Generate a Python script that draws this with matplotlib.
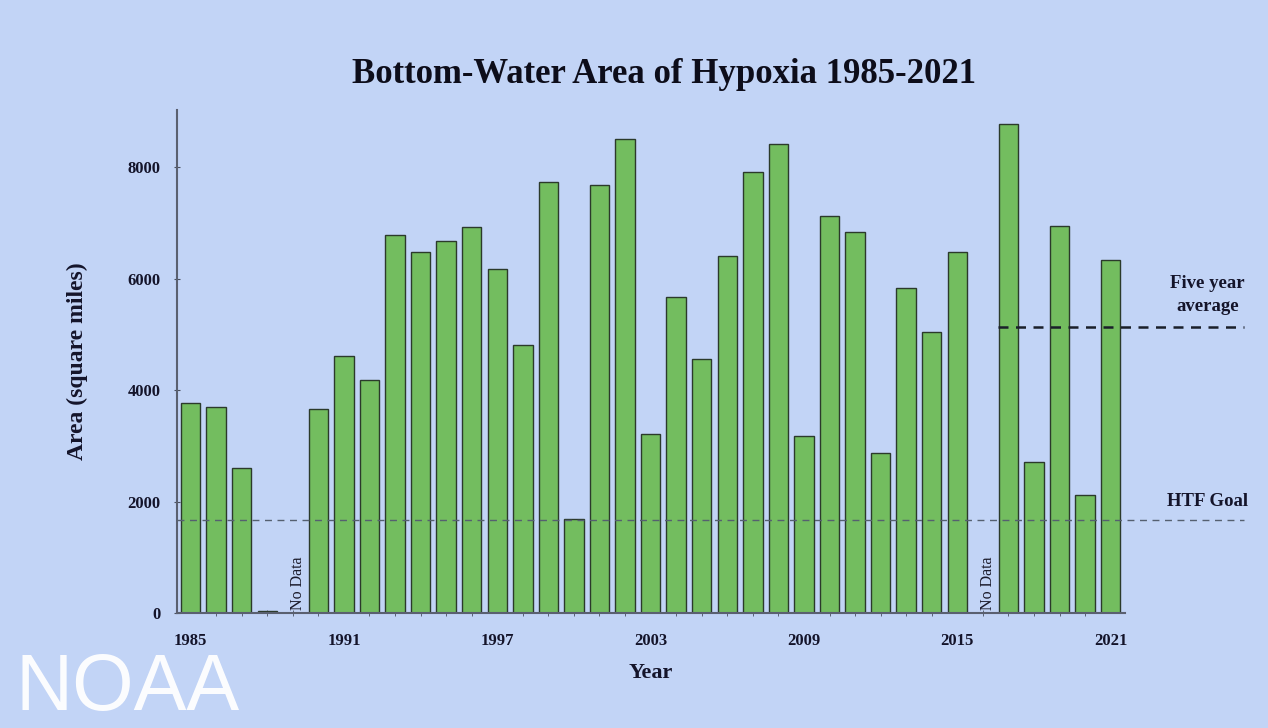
import matplotlib.pyplot as plt
import numpy as np

# yearly hypoxic area (sq miles), None = no data
years = list(range(1985, 2022))
area = [3780, 3700, 2600, 40, None, 3670, 4620, 4180, 6790, 6480, 6680, 6930,
        6180, 4820, 7730, 1700, 7690, 8500, 3220, 5680, 4560, 6410, 7910, 8410,
        3180, 7130, 6840, 2880, 5840, 5050, 6480, None, 8780, 2720, 6950, 2120,
        6330]
no_data_years = [1989, 2016]
htf_goal = 1680
five_year_avg = 5130
tick_years = [1985, 1991, 1997, 2003, 2009, 2015, 2021]
yticks = [0, 2000, 4000, 6000, 8000]

bg = '#c2d4f6'
serif = ['Liberation Serif', 'DejaVu Serif']

fig = plt.figure(figsize=(12.68, 7.28), dpi=100, facecolor=bg)
ax = fig.add_axes([0.1396, 0.1575, 0.7474, 0.6915], facecolor=bg)

x = [y for y, a in zip(years, area) if a is not None]
h = [a for a in area if a is not None]
ax.bar(x, h, width=0.76, color='#73bd5f', edgecolor='#2b3a2b', linewidth=1.0, zorder=2)

for yr in no_data_years:
    ax.text(yr + 0.2, 60, 'No Data', rotation=90, ha='center', va='bottom',
            fontsize=11.5, family=serif, color='#1a1a2a', zorder=3)

# reference lines (run past the axis to the labels on the right)
ax.plot([1984.47, 2026.2], [htf_goal, htf_goal], ls=(0, (5, 4)), color='#556070',
        lw=1.0, clip_on=False, zorder=3)
ax.plot([2016.6, 2026.2], [five_year_avg, five_year_avg], ls=(0, (4, 3)),
        color='#1a1f2a', lw=1.8, clip_on=False, zorder=3)
ax.text(2024.8, five_year_avg + 220, 'Five year\naverage', ha='center', va='bottom',
        fontsize=13.5, fontweight='bold', family=serif, color='#14142a', linespacing=1.45)
ax.text(2024.8, htf_goal + 170, 'HTF Goal', ha='center', va='bottom',
        fontsize=13.5, fontweight='bold', family=serif, color='#14142a')

ax.set_xlim(1984.47, 2021.55)
ax.set_ylim(0, 9030)
ax.set_yticks(yticks)
ax.set_xticks(tick_years)
ax.set_xticks(years, minor=True)
ax.tick_params(axis='x', which='major', length=0, pad=14)
ax.tick_params(axis='x', which='minor', length=5, direction='inout', color='#4a5060')
ax.tick_params(axis='y', length=4, direction='inout', color='#4a5060', pad=10)
for lab in ax.get_xticklabels() + ax.get_yticklabels():
    lab.set_family(serif)
    lab.set_fontweight('bold')
    lab.set_fontsize(12)
    lab.set_color('#14142a')

for s in ['top', 'right']:
    ax.spines[s].set_visible(False)
for s in ['left', 'bottom']:
    ax.spines[s].set_color('#5a6070')
    ax.spines[s].set_linewidth(1.5)

ax.set_xlabel('Year', family=serif, fontweight='bold', fontsize=16, color='#14142a', labelpad=10)
ax.set_ylabel('Area (square miles)', family=serif, fontweight='bold', fontsize=17,
              color='#14142a', labelpad=28)

fig.text(0.524, 0.897, 'Bottom-Water Area of Hypoxia 1985-2021', ha='center', va='center',
         family=serif, fontweight='bold', fontsize=25, color='#0d0d1a')

fig.text(0.012, 0.025, 'NOAA', family=['Liberation Sans', 'DejaVu Sans'], fontsize=57,
         color='white', alpha=0.95, ha='left', va='baseline')

fig.savefig('out.png', dpi=100, facecolor=bg)
